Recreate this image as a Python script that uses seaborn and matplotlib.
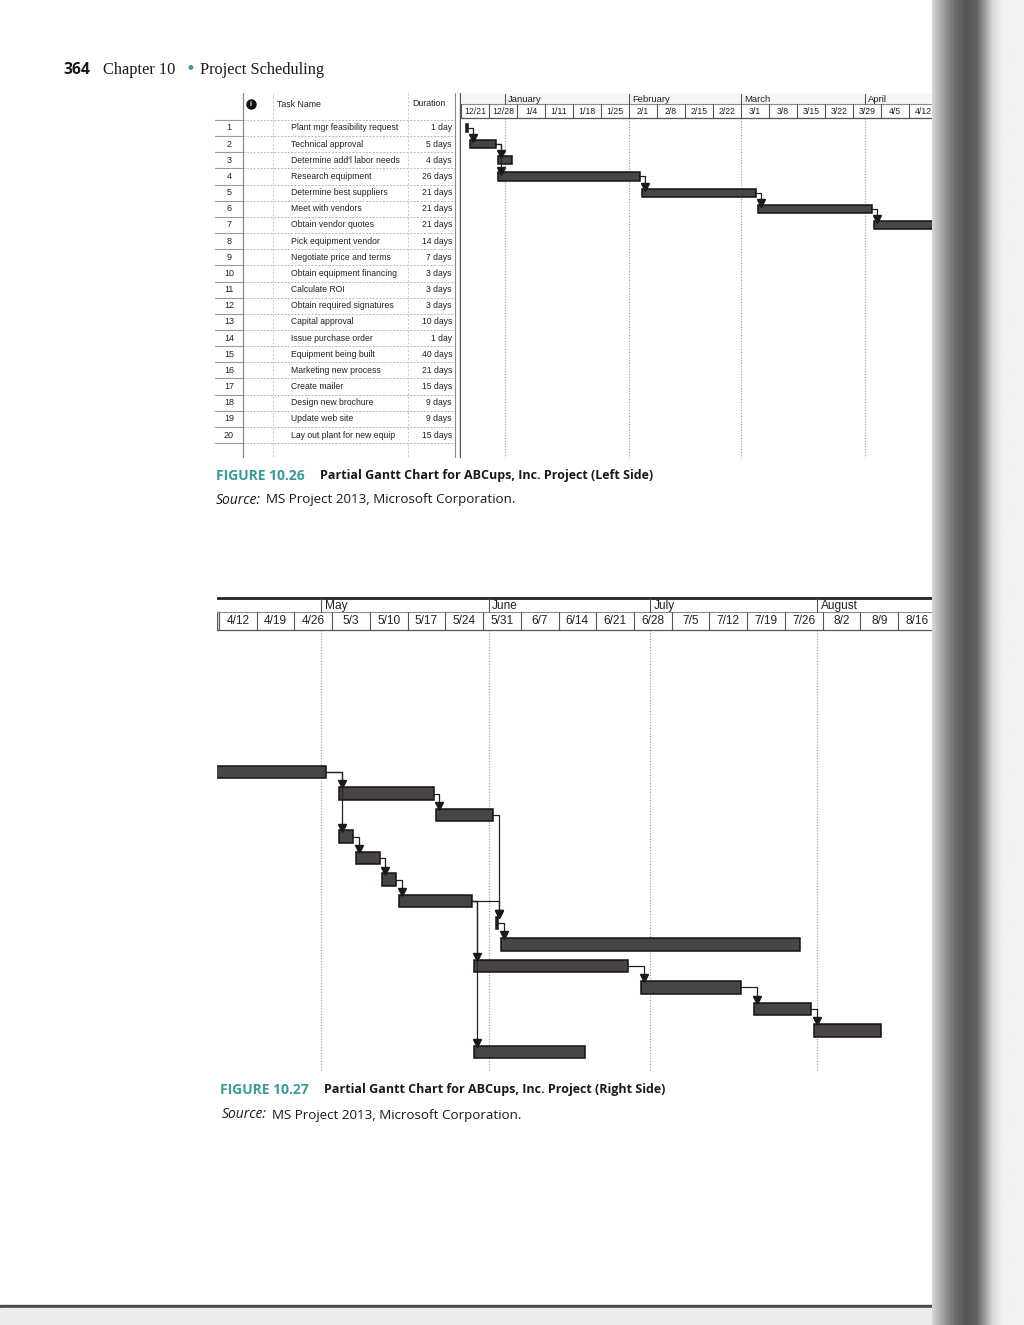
import numpy as np
import pandas as pd
import matplotlib
matplotlib.use("Agg")
import matplotlib.pyplot as plt
import matplotlib.dates as mdates
import seaborn as sns

# ---- data ----
task_ids = list(range(1, 21))
task_names = [
    "Plant mgr feasibility request", "Technical approval", "Determine add'l labor needs",
    "Research equipment", "Determine best suppliers", "Meet with vendors",
    "Obtain vendor quotes", "Pick equipment vendor", "Negotiate price and terms",
    "Obtain equipment financing", "Calculate ROI", "Obtain required signatures",
    "Capital approval", "Issue purchase order", "Equipment being built",
    "Marketing new process", "Create mailer", "Design new brochure",
    "Update web site", "Lay out plant for new equip",
]
durations = [
    "1 day", "5 days", "4 days", "26 days", "21 days", "21 days", "21 days",
    "14 days", "7 days", "3 days", "3 days", "3 days", "10 days", "1 day",
    "40 days", "21 days", "15 days", "9 days", "9 days", "15 days",
]
starts = [
    "2014-12-22", "2014-12-23", "2014-12-30", "2014-12-30", "2015-02-04",
    "2015-03-05", "2015-04-03", "2015-05-04", "2015-05-22", "2015-05-04",
    "2015-05-07", "2015-05-12", "2015-05-15", "2015-06-02", "2015-06-03",
    "2015-05-29", "2015-06-29", "2015-07-20", "2015-07-31", "2015-05-29",
]
finishes = [
    "2014-12-22", "2014-12-29", "2015-01-02", "2015-02-03", "2015-03-04",
    "2015-04-02", "2015-05-01", "2015-05-21", "2015-06-01", "2015-05-06",
    "2015-05-11", "2015-05-14", "2015-05-28", "2015-06-02", "2015-07-28",
    "2015-06-26", "2015-07-17", "2015-07-30", "2015-08-12", "2015-06-18",
]
links = [(1, 2), (2, 3), (2, 4), (4, 5), (5, 6), (6, 7), (7, 8), (7, 10),
         (8, 9), (10, 11), (11, 12), (12, 13), (9, 14), (13, 14), (14, 15),
         (13, 16), (13, 20), (16, 17), (17, 18), (18, 19)]

top_weeks = ["12/21", "12/28", "1/4", "1/11", "1/18", "1/25", "2/1", "2/8", "2/15",
             "2/22", "3/1", "3/8", "3/15", "3/22", "3/29", "4/5", "4/12"]
top_first_week = "2014-12-21"
top_months = ["January", "February", "March", "April"]
top_month_starts = ["2015-01-01", "2015-02-01", "2015-03-01", "2015-04-01"]

bottom_weeks = ["4/12", "4/19", "4/26", "5/3", "5/10", "5/17", "5/24", "5/31", "6/7",
                "6/14", "6/21", "6/28", "7/5", "7/12", "7/19", "7/26", "8/2", "8/9", "8/16"]
bottom_first_week = "2015-04-12"
bottom_months = ["May", "June", "July", "August"]
bottom_month_starts = ["2015-05-01", "2015-06-01", "2015-07-01", "2015-08-01"]

# ---- setup ----
sns.set_theme(style="white")
plt.rcParams['font.family'] = ['Liberation Sans', 'DejaVu Sans']

W, H = 1024, 1325
fig = plt.figure(figsize=(W / 100, H / 100), dpi=100)
fig.patch.set_facecolor('white')

BAR = '#4a4545'
BAR_EDGE = '#161212'
LINE = '#8c8c8c'
TEAL = '#3a9b9b'

tasks = pd.DataFrame({
    'id': task_ids,
    'start': mdates.date2num(pd.to_datetime(starts)) + 0.33,
    'end': mdates.date2num(pd.to_datetime(finishes)) + 0.85,
}).set_index('id')


def px_axes(x0, y0, x1, y1):
    ax = fig.add_axes([x0 / W, 1 - y1 / H, (x1 - x0) / W, (y1 - y0) / H])
    ax.set_axis_off()
    return ax


def draw_gantt(ax, ppd, bar_h, r_top, r_mid, r_bot, r_end,
               week_labels, first_week, month_labels, month_starts, fs_w, fs_m):
    week_dates = mdates.date2num(pd.date_range(first_week, periods=len(week_labels), freq='7D'))
    mdates_num = mdates.date2num(pd.to_datetime(month_starts))
    x0, x1 = ax.get_xlim()
    # header
    ax.plot([x0, x1], [r_mid, r_mid], color=LINE, lw=0.8)
    ax.plot([x0, x1], [r_bot, r_bot], color='#555555', lw=0.9)
    for d, lab in zip(week_dates, week_labels):
        ax.plot([d, d], [r_mid, r_bot], color='#555555', lw=0.8)
        ax.text(d + 3.5, (r_mid + r_bot) / 2, lab, ha='center', va='center',
                fontsize=fs_w, color='#222222', clip_on=True)
    for d, lab in zip(mdates_num, month_labels):
        ax.plot([d, d], [r_top, r_mid], color='#555555', lw=0.8)
        ax.text(d + 0.3 + 1.8 / ppd, (r_top + r_mid) / 2 + 0.05, lab, ha='left', va='center',
                fontsize=fs_m, color='#222222', clip_on=True)
        ax.plot([d, d], [r_bot, r_end], color='#9a9a9a', lw=0.8, ls=(0, (1, 1.5)), zorder=1)
    # bars
    ax.barh(tasks.index, tasks['end'] - tasks['start'], left=tasks['start'],
            height=bar_h, color=BAR, edgecolor=BAR_EDGE, linewidth=1.1, zorder=3)
    # dependency arrows
    off = 3.0 / ppd
    tip = bar_h / 2
    for p, s in links:
        xe = tasks.loc[p, 'end']
        xs = tasks.loc[s, 'start']
        xv = xs + off if xs + off > xe else xe + off
        ytop = s - bar_h / 2
        ax.plot([xe, xv, xv], [p, p, ytop - tip * 0.5], color='#222222', lw=0.9, zorder=4)
        ax.plot([xv], [ytop - tip * 0.45], marker='v', ms=6, color='#1a1a1a', zorder=5)
    ax.set_xlim(x0, x1)


# ---------------- top chart (left side) ----------------
T_ROW1, T_PITCH = 128.0, 16.16
def trow(y):
    return 1 + (y - T_ROW1) / T_PITCH

ty0, ty1 = 93, 458
# table
tab = px_axes(215, ty0, 461, ty1)
tab.set_xlim(215, 461)
tab.set_ylim(trow(ty1), trow(ty0))
for i in range(0, 21):
    r = i + 0.5
    tab.plot([215, 243], [r, r], color='#9a9a9a', lw=0.8)
    tab.plot([243, 455], [r, r], color='#b8b8b8', lw=0.7, ls=(0, (2, 1.5)))
tab.plot([243, 243], [trow(ty0), trow(ty1)], color='#8a8a8a', lw=0.9)
tab.plot([273, 273], [trow(ty0), trow(ty1)], color='#c8c8c8', lw=0.7, ls=(0, (2, 2)))
tab.plot([408, 408], [trow(ty0), trow(ty1)], color='#c8c8c8', lw=0.7, ls=(0, (2, 2)))
tab.plot([455, 455], [trow(ty0), trow(ty1)], color='#8a8a8a', lw=0.8)
tab.plot([460, 460], [trow(ty0), trow(ty1)], color='#555555', lw=1.0)
hr = trow(104.5)
tab.text(277, hr, "Task Name", ha='left', va='center', fontsize=6.3, color='#222222')
tab.text(412, hr - 0.05, "Duration", ha='left', va='center', fontsize=6.3, color='#222222')
tab.plot([251], [hr], marker='o', ms=6.5, color='#111111')
tab.text(251, hr + 0.02, "i", ha='center', va='center', fontsize=5, color='white', fontweight='bold')
for tid, name, dur in zip(task_ids, task_names, durations):
    tab.text(229, tid, str(tid), ha='center', va='center', fontsize=6.5, color='#222222')
    tab.text(291, tid, name, ha='left', va='center', fontsize=6.2, color='#222222')
    tab.text(452, tid, dur, ha='right', va='center', fontsize=6.2, color='#222222')

# gantt
gt = px_axes(461, ty0, 934, ty1)
t0 = mdates.date2num(pd.Timestamp(top_first_week))
gt.set_xlim(t0, t0 + (934 - 461) / 4.0)
gt.set_ylim(trow(ty1), trow(ty0))
gt.axhspan(trow(94), trow(104), color='#f5f5f5', zorder=0)
draw_gantt(gt, 4.0, 0.5, trow(94), trow(104), trow(118), trow(ty1),
           top_weeks, top_first_week, top_months, top_month_starts, 6.3, 6.8)

# ---------------- bottom chart (right side) ----------------
B_ROW1, B_PITCH = 642.76, 21.54
def brow(y):
    return 1 + (y - B_ROW1) / B_PITCH

by0, by1 = 597, 1072
gb = px_axes(217, by0, 934, by1)
b0 = mdates.date2num(pd.Timestamp(bottom_first_week))
ppd_b = 5.39
gb.set_xlim(b0 - 2 / ppd_b, b0 + (934 - 219) / ppd_b)
gb.set_ylim(brow(by1), brow(by0))
xl = gb.get_xlim()
gb.plot(xl, [brow(597.5), brow(597.5)], color='#222222', lw=2.0)
gb.plot([xl[0], xl[0]], [brow(612), brow(630)], color='#555555', lw=1.0)
draw_gantt(gb, ppd_b, 0.58, brow(598), brow(612), brow(630), brow(by1),
           bottom_weeks, bottom_first_week, bottom_months, bottom_month_starts, 8.6, 8.6)

# ---------------- page text ----------------
def ftext(x, y, s, **kw):
    fig.text(x / W, 1 - y / H, s, va='center', **kw)

serif = ['Liberation Serif', 'DejaVu Serif']
ftext(63, 70, "364", fontsize=11.3, fontweight='bold', family=['Open Sans', 'DejaVu Sans'], color='#1a1a1a')
ftext(103, 70, "Chapter 10", fontsize=11.8, family=serif, color='#1a1a1a')
ftext(185, 69, "\u2022", fontsize=12, family=['DejaVu Sans'], color=TEAL)
ftext(200, 70, "Project Scheduling", fontsize=11.8, family=serif, color='#1a1a1a')

cap = ['Open Sans', 'DejaVu Sans']
ftext(216, 476, "FIGURE 10.26", fontsize=10.0, fontweight='bold', family=cap, color=TEAL)
ftext(320, 476, "Partial Gantt Chart for ABCups, Inc. Project (Left Side)", fontsize=9.0,
      fontweight='bold', family=cap, color='#1a1a1a')
ftext(216, 500, "Source:", fontsize=10.0, style='italic', family=cap, color='#1a1a1a')
ftext(266, 500, "MS Project 2013, Microsoft Corporation.", fontsize=9.6, family=cap, color='#1a1a1a')

ftext(220, 1090, "FIGURE 10.27", fontsize=10.0, fontweight='bold', family=cap, color=TEAL)
ftext(324, 1090, "Partial Gantt Chart for ABCups, Inc. Project (Right Side)", fontsize=9.0,
      fontweight='bold', family=cap, color='#1a1a1a')
ftext(222, 1115, "Source:", fontsize=10.0, style='italic', family=cap, color='#1a1a1a')
ftext(272, 1115, "MS Project 2013, Microsoft Corporation.", fontsize=9.6, family=cap, color='#1a1a1a')

# book spine shadow on the right edge and page edge at the bottom
sp = px_axes(932, 0, 1024, 1325)
prof_x = [0, 10, 22, 34, 44, 52, 60, 70, 92]
prof_v = [0.84, 0.64, 0.44, 0.33, 0.38, 0.60, 0.84, 0.94, 0.95]
grad = np.interp(np.arange(92), prof_x, prof_v)
sp.imshow(np.tile(grad, (10, 1)), cmap='gray', vmin=0, vmax=1, aspect='auto',
          extent=[0, 92, 0, 1], interpolation='bilinear')
sp.set_xlim(0, 92)
edge = px_axes(0, 1300, 932, 1325)
edge.set_xlim(0, 1)
edge.set_ylim(1, 0)
edge.axhspan(0.2, 0.32, color='#4a4a4a')
edge.axhspan(0.32, 1, color='#ececec')

fig.savefig("out.png", dpi=100)
